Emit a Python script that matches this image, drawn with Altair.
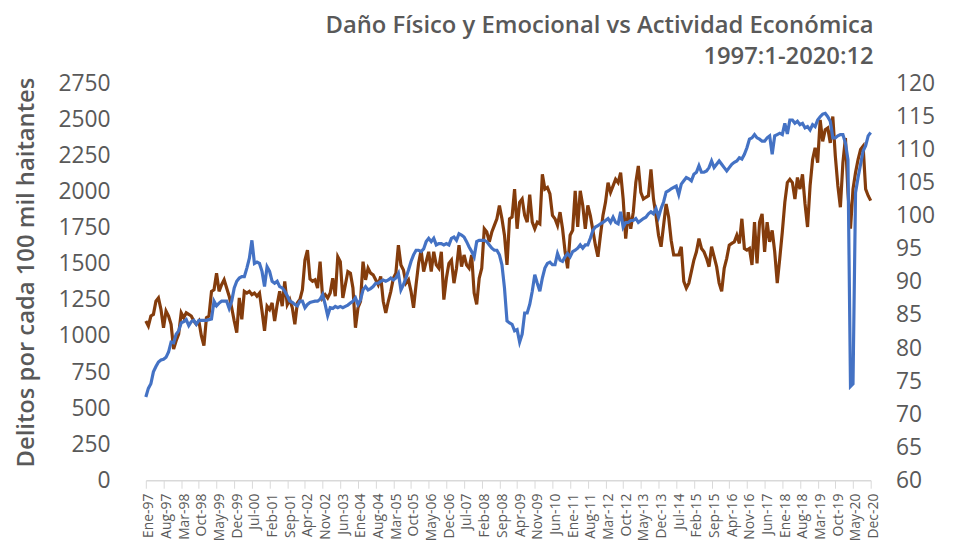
import altair as alt
import pandas as pd

# Delitos (daño físico y emocional) por cada 100 mil habitantes, mensual 1997:1-2020:12
delitos = [
    1104, 1070, 1139, 1150, 1241, 1264, 1184, 1058, 1173, 1139, 1082, 910,
    967, 1013, 1161, 1127, 1161, 1150, 1139, 1104, 1082, 1104, 1001, 933,
    1127, 1139, 1310, 1321, 1436, 1310, 1356, 1390, 1333, 1276, 1196, 1104,
    1024, 1264, 1116, 1310, 1298, 1310, 1287, 1298, 1276, 1298, 1173, 1036,
    1207, 1184, 1230, 1104, 1218, 1310, 1207, 1379, 1218, 1253, 1196, 1082,
    1230, 1253, 1321, 1527, 1596, 1395, 1380, 1390, 1333, 1516, 1264, 1287,
    1264, 1298, 1401, 1276, 1550, 1516, 1264, 1356, 1447, 1436, 1333, 1058,
    1196, 1241, 1516, 1390, 1470, 1436, 1424, 1390, 1356, 1413, 1241, 1161,
    1241, 1310, 1401, 1436, 1630, 1493, 1458, 1367, 1390, 1310, 1196, 1356,
    1504, 1596, 1447, 1516, 1584, 1447, 1584, 1493, 1470, 1584, 1253, 1401,
    1504, 1527, 1367, 1470, 1630, 1481, 1562, 1493, 1470, 1562, 1298, 1219,
    1401, 1470, 1744, 1721, 1653, 1721, 1767, 1813, 1905, 1813, 1699, 1493,
    1813, 1825, 2019, 1744, 1927, 1950, 1836, 1790, 1981, 1790, 1744, 1790,
    1778, 2121, 2019, 2030, 1985, 1836, 1813, 1767, 1859, 1744, 1584, 1470,
    1699, 1733, 2007, 1756, 2007, 1905, 1744, 1905, 1836, 1733, 1630, 1550,
    1699, 1836, 1927, 2064, 1996, 2041, 2087, 2064, 2133, 1950, 1676, 1859,
    1744, 1859, 2064, 2179, 1996, 1950, 1962, 1973, 2156, 1950, 1836, 1699,
    1619, 1767, 1916, 1825, 1664, 1562, 1562, 1562, 1619, 1379, 1333, 1367,
    1447, 1527, 1584, 1676, 1607, 1584, 1539, 1481, 1619, 1550, 1481, 1367,
    1310, 1470, 1539, 1630, 1642, 1653, 1699, 1642, 1813, 1607, 1596, 1607,
    1493, 1790, 1504, 1790, 1847, 1584, 1790, 1653, 1733, 1584, 1367, 1539,
    1721, 1927, 2064, 2087, 2064, 1950, 2099, 2019, 2121, 1916, 1756, 2041,
    2224, 2305, 2202, 2499, 2350, 2430, 2442, 2339, 2522, 2248, 2042, 1893,
    2202, 2373, 1996, 1744, 2019, 2133, 2224, 2293, 2316, 2019, 1973, 1939,
]

# Indicador de actividad económica (eje derecho)
actividad = [
    72.6, 73.9, 74.6, 76.4, 77.2, 77.9, 78.2, 78.3, 78.6, 79.4, 80.9, 80.8,
    82.1, 82.6, 83.8, 84.0, 84.3, 83.4, 84.0, 84.2, 83.6, 84.2, 84.2, 84.2,
    84.2, 84.3, 84.4, 87.1, 86.4, 86.8, 87.1, 87.1, 87.1, 86.0, 87.1, 89.1,
    90.1, 90.6, 90.8, 90.8, 92.1, 93.6, 96.3, 92.8, 93.0, 92.8, 91.6, 89.3,
    92.3, 91.6, 90.1, 89.8, 90.1, 89.3, 89.1, 88.6, 87.9, 87.1, 86.9, 86.6,
    86.4, 87.1, 87.1, 86.1, 86.6, 86.9, 87.0, 87.1, 87.1, 87.4, 88.1, 86.6,
    84.9, 86.1, 86.0, 86.3, 86.1, 86.3, 86.1, 86.3, 86.5, 86.8, 87.1, 87.6,
    86.6, 87.3, 88.8, 89.3, 88.8, 89.0, 89.3, 89.8, 89.8, 90.1, 90.3, 90.1,
    90.3, 90.6, 90.3, 90.6, 91.3, 88.8, 89.6, 90.6, 91.8, 93.1, 94.1, 94.8,
    94.8, 94.6, 95.0, 96.1, 96.6, 96.1, 96.6, 95.6, 95.8, 95.8, 95.6, 95.8,
    95.6, 96.6, 96.8, 96.3, 97.3, 97.1, 96.8, 96.1, 95.3, 94.6, 93.8, 96.1,
    96.3, 96.3, 96.3, 96.1, 95.6, 95.1, 94.8, 94.8, 94.1, 92.6, 89.1, 84.1,
    83.8, 83.6, 82.6, 82.8, 80.9, 82.1, 85.3, 85.3, 86.6, 88.6, 91.1, 89.8,
    88.6, 90.6, 92.1, 92.8, 93.0, 92.6, 92.6, 94.3, 93.3, 93.1, 93.8, 94.3,
    93.8, 94.6, 94.8, 95.1, 95.6, 95.1, 95.6, 95.6, 96.6, 97.8, 98.3, 98.5,
    98.8, 99.0, 99.3, 99.6, 99.0, 99.8, 99.0, 98.8, 100.6, 98.3, 99.0, 99.0,
    99.3, 99.3, 99.6, 99.0, 99.3, 99.6, 99.8, 100.3, 100.6, 100.3, 101.1, 99.8,
    101.1, 102.1, 103.6, 103.8, 104.1, 104.3, 104.5, 103.2, 104.8, 105.3, 105.8, 105.6,
    105.3, 106.3, 106.6, 107.6, 106.6, 106.6, 106.8, 107.3, 108.3, 107.3, 107.8, 108.3,
    107.8, 107.3, 106.8, 107.3, 107.8, 108.1, 108.3, 108.8, 108.6, 109.3, 110.3, 111.6,
    111.8, 112.3, 111.8, 111.6, 111.3, 111.3, 111.8, 112.1, 109.3, 112.1, 112.3, 112.5,
    112.3, 114.0, 112.4, 114.5, 114.5, 114.0, 114.3, 113.8, 114.0, 113.3, 113.5, 113.0,
    113.8, 113.5, 114.5, 115.0, 115.4, 115.5, 115.0, 114.3, 111.8, 111.8, 112.1, 112.3,
    112.3, 111.0, 108.5, 74.2, 74.6, 103.5, 105.8, 107.8, 109.8, 110.6, 112.1, 112.6,
]

tick_labels = [
    "Ene-97", "Aug-97", "Mar-98", "Oct-98", "May-99", "Dec-99", "Jul-00",
    "Feb-01", "Sep-01", "Apr-02", "Nov-02", "Jun-03", "Ene-04", "Aug-04",
    "Mar-05", "Oct-05", "May-06", "Dec-06", "Jul-07", "Feb-08", "Sep-08",
    "Apr-09", "Nov-09", "Jun-10", "Ene-11", "Aug-11", "Mar-12", "Oct-12",
    "May-13", "Dec-13", "Jul-14", "Feb-15", "Sep-15", "Apr-16", "Nov-16",
    "Jun-17", "Ene-18", "Aug-18", "Mar-19", "Oct-19", "May-20", "Dec-20",
]

left_ticks = list(range(0, 2751, 250))
right_ticks = list(range(60, 121, 5))

df = pd.DataFrame({"m": list(range(len(delitos))), "delitos": delitos, "actividad": actividad})

label_arr = "[" + ",".join("'" + t + "'" for t in tick_labels) + "]"
grey = "#595959"
font = "Open Sans"

x = alt.X(
    "m:Q",
    scale=alt.Scale(domain=[0, len(delitos) - 1], nice=False, zero=False),
    axis=alt.Axis(
        values=list(range(0, len(delitos), 7)),
        labelExpr=label_arr + "[round(datum.value/7)]",
        labelAngle=270,
        labelFontSize=14,
        labelColor=grey,
        labelFont=font,
        labelPadding=5,
        labelOffset=3,
        tickSize=8,
        tickColor="#d9d9d9",
        domainColor="#d9d9d9",
        domainWidth=1.5,
        grid=False,
        title=None,
    ),
)

brown = alt.Chart(df).mark_line(color="#843C0C", strokeWidth=3.2).encode(
    x=x,
    y=alt.Y(
        "delitos:Q",
        scale=alt.Scale(domain=[0, 2750], nice=False),
        axis=alt.Axis(
            orient="left",
            values=left_ticks,
            format="d",
            labelFontSize=23,
            labelColor=grey,
            labelFont=font,
            labelPadding=36,
            tickSize=0,
            domain=False,
            grid=False,
            title="Delitos por cada 100 mil haitantes",
            titleFontSize=24,
            titleFont=font,
            titleFontWeight=600,
            titleColor=grey,
            titleAngle=270,
            titleAlign="center",
            titleBaseline="middle",
            titleX=-120,
            titleY=190,
        ),
    ),
)

blue = alt.Chart(df).mark_line(color="#4472C4", strokeWidth=3.2).encode(
    x=x,
    y=alt.Y(
        "actividad:Q",
        scale=alt.Scale(domain=[60, 120], nice=False, zero=False),
        axis=alt.Axis(
            orient="right",
            values=right_ticks,
            format="d",
            labelFontSize=23,
            labelColor=grey,
            labelFont=font,
            labelPadding=25,
            tickSize=0,
            domain=False,
            grid=False,
            title=None,
        ),
    ),
)

chart = (
    alt.layer(brown, blue)
    .resolve_scale(y="independent")
    .properties(
        width=731,
        height=400,
        autosize=alt.AutoSizeParams(type="none"),
        padding={"left": 139, "top": 74, "right": 82, "bottom": 64},
        title=alt.TitleParams(
            text=["Daño Físico y Emocional vs Actividad Económica", "1997:1-2020:12"],
            anchor="end",
            frame="group",
            fontSize=24,
            font=font,
            fontWeight=600,
            color=grey,
            lineHeight=31,
            offset=4,
            dx=3,
        ),
    )
    .configure_view(stroke=None)
)

chart.save("out.html", embed_options={"renderer": "svg", "actions": False})
